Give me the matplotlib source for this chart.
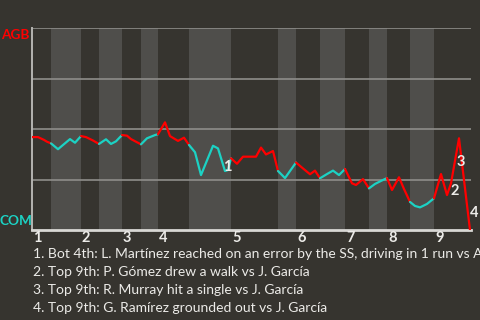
import matplotlib
matplotlib.use('Agg')
import matplotlib.pyplot as plt
import matplotlib.transforms as mtransforms

# game progress (one vertex per play) and AGB win probability
prog = [0, 6, 12, 15, 19, 26, 38, 43, 49, 54, 61, 67, 74, 79, 84, 90, 95, 99, 109,
        115, 123, 126, 133, 138, 146, 152, 157, 163, 169, 181, 186, 193, 196, 199,
        205, 211, 224, 229, 234, 241, 246, 253, 264, 269, 278, 283, 288, 295, 301,
        307, 313, 320, 324, 331, 337, 343, 349, 355, 360, 367, 372, 378, 383, 388,
        395, 402, 409, 415, 419, 427, 438]
wp = [0.460, 0.460, 0.446, 0.437, 0.429,
      0.400, 0.450, 0.432, 0.465,
      0.460, 0.443, 0.426,
      0.449, 0.426, 0.439, 0.470,
      0.467, 0.450, 0.424,
      0.454, 0.470, 0.474,
      0.533, 0.465, 0.441, 0.457, 0.421,
      0.385, 0.272, 0.417, 0.404, 0.292, 0.297, 0.355,
      0.328, 0.363, 0.363, 0.408, 0.374, 0.391, 0.292,
      0.257, 0.334,
      0.313, 0.276, 0.294, 0.256,
      0.277, 0.294, 0.272, 0.302,
      0.231, 0.223, 0.252, 0.206,
      0.228, 0.243, 0.257,
      0.198, 0.261, 0.203, 0.139,
      0.119, 0.112, 0.129, 0.157,
      0.277, 0.173, 0.231, 0.454, 0.000]
# where each half inning begins (top 1, bot 1, top 2, ...)
half_start = [0, 19, 49, 67, 90, 109, 126, 157, 199, 246, 264, 288, 313, 337, 355, 378, 402]
game_end = 439
innings = ['1', '2', '3', '4', '5', '6', '7', '8', '9']

marks = ['1', '2', '3', '4']
mark_x = [195, 423, 429, 442]
mark_y = [0.312, 0.195, 0.335, 0.083]
events = ['1. Bot 4th: L. Martínez reached on an error by the SS, driving in 1 run vs A. Pérez',
          '2. Top 9th: P. Gómez drew a walk vs J. García',
          '3. Top 9th: R. Murray hit a single vs J. García',
          '4. Top 9th: G. Ramírez grounded out vs J. García']

BG = '#36342f'
BAND = '#4f4e4b'
RED = '#ff0000'
CYAN = '#1cd2c4'
TXT = '#ecebe8'
plt.rcParams['font.family'] = ['Lato', 'DejaVu Sans']

fig = plt.figure(figsize=(4.8, 3.2), dpi=100, facecolor=BG)
ax = fig.add_axes([32/480, 90/320, 439/480, 202/320])
ax.set_facecolor(BG)
ax.set_xlim(0, game_end)
ax.set_ylim(0, 1)

ends = half_start[1:] + [game_end]
for i, (s, e) in enumerate(zip(half_start, ends)):
    if i % 2 == 1:
        ax.axvspan(s, e, color=BAND, lw=0, zorder=0)
for y in [0.25, 0.5, 0.75, 1.0]:
    ax.axhline(y, color='#8e8d8a', lw=1.2, zorder=1)

for i, (s, e) in enumerate(zip(half_start, ends)):
    a = prog.index(s)
    b = prog.index(e) + 1 if e in prog else len(prog)
    ax.plot(prog[a:b], wp[a:b], color=RED if i % 2 == 0 else CYAN, lw=1.6, zorder=3,
            solid_joinstyle='round', solid_capstyle='round')

for m, x, y in zip(marks, mark_x, mark_y):
    ax.text(x, y, m, color=TXT, fontsize=10.5, fontweight='bold', ha='center', va='center', zorder=4)

trans = mtransforms.blended_transform_factory(ax.transData, ax.transAxes)
for lab, s in zip(innings, half_start[::2]):
    ax.text(s + 1, -0.04, lab, transform=trans, color=TXT, fontsize=10.5, fontweight='bold',
            ha='left', va='center')

for sp in ['top', 'right']:
    ax.spines[sp].set_visible(False)
ax.spines['left'].set_color('#b5b4b1')
ax.spines['left'].set_linewidth(1.4)
ax.spines['bottom'].set_color('#d8d7d4')
ax.spines['bottom'].set_linewidth(2)
ax.set_xticks([])
ax.set_yticks([])

fig.text(15/480, 1 - 35/320, 'AGB', color=RED, fontsize=9.8, fontweight='bold',
         ha='center', va='center')
fig.text(15.5/480, 1 - 221/320, 'COM', color=CYAN, fontsize=9.8, fontweight='bold',
         ha='center', va='center')

for k, ev in enumerate(events):
    fig.text(33/480, 1 - (254.5 + 18*k)/320, ev, color=TXT, fontsize=10, ha='left', va='center')

fig.savefig('out.png', dpi=100, facecolor=BG)
